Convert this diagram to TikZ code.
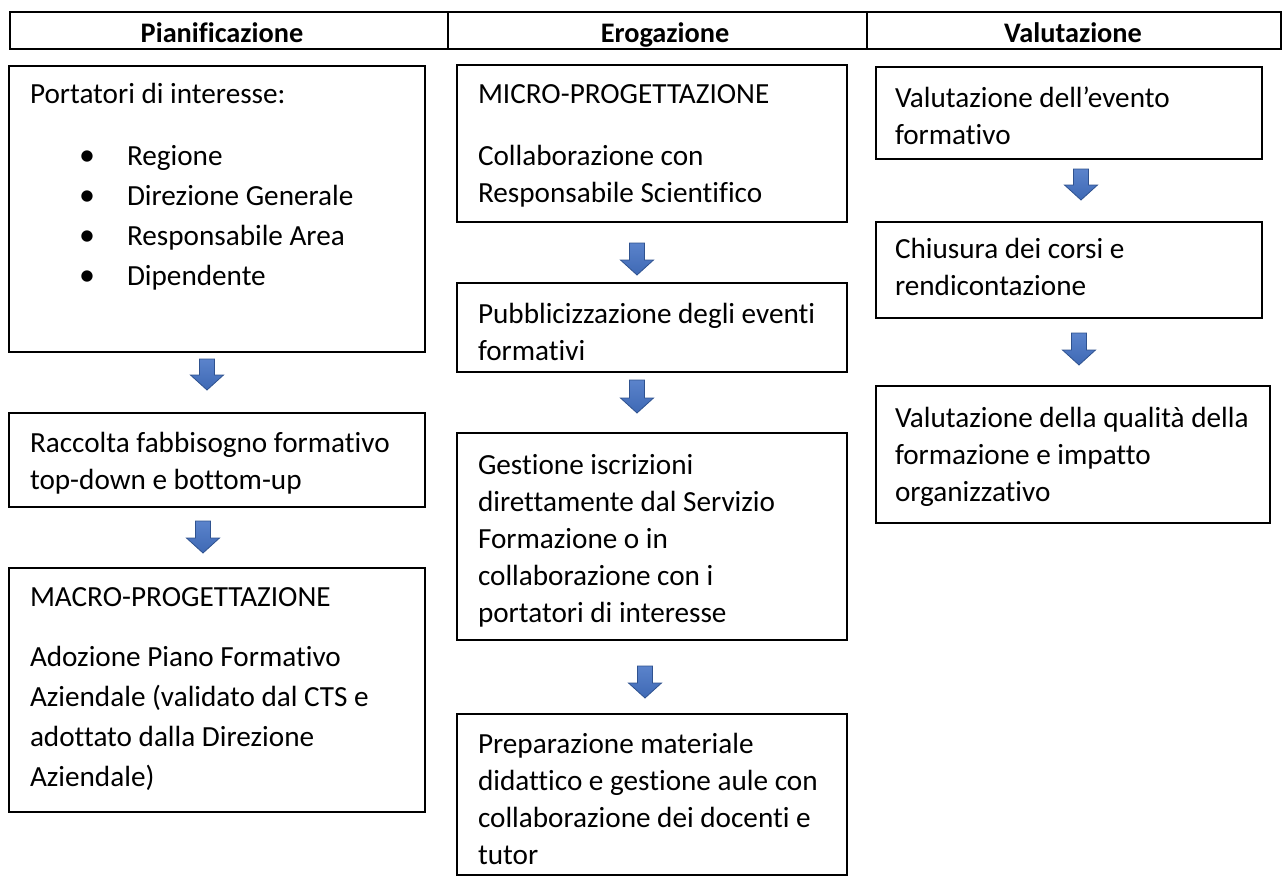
\documentclass[tikz,border=0pt]{standalone}
\usepackage{fontspec}
\setmainfont{Carlito}[Ligatures=NoCommon]
\usetikzlibrary{calc}
\definecolor{arrowblue}{HTML}{4472C4}
\definecolor{arrowedge}{HTML}{2F528F}
\newcommand{\blockarr}[2]{%
  \draw[blockarrow] ($(#1)+(-7.5,0)$) -- ($(#1)+(7.5,0)$) -- ($(#2)+(7.5,-15)$) -- ($(#2)+(16.5,-15)$)
    -- (#2) -- ($(#2)+(-16.5,-15)$) -- ($(#2)+(-7.5,-15)$) -- cycle;}
\begin{document}
\begin{tikzpicture}[x=1pt,y=-1pt,
  box/.style={draw=black, line width=1.3pt, anchor=north west, inner sep=0pt, outer sep=0pt},
  hcell/.style={draw=black, line width=1.8pt, anchor=north west, inner sep=0pt, outer sep=0pt, minimum height=37pt},
  htxt/.style={anchor=base, inner sep=0pt, font=\fontsize{28.3}{32}\selectfont\bfseries},
  txt/.style={anchor=north west, inner sep=0pt, outer sep=0pt, align=left, font=\fontsize{29.2}{37}\selectfont},
  listtxt/.style={anchor=north west, inner sep=0pt, outer sep=0pt, align=left, font=\fontsize{29.2}{40}\selectfont},
  blockarrow/.style={draw=arrowedge, line width=0.8pt, top color=arrowblue!88!white, bottom color=arrowblue!92!black, line join=miter}
]
\useasboundingbox (0,0) rectangle (1283,876);

% header table
\node[hcell, minimum width=438pt] (h1) at (10,12) {};
\node[hcell, minimum width=419pt] (h2) at (448,12) {};
\node[hcell, minimum width=414pt] (h3) at (867,12) {};
\node[htxt] (h1t) at (222,42) {Pianificazione};
\node[htxt] (h2t) at (665,42) {Erogazione};
\node[htxt] (h3t) at (1073,42) {Valutazione};

% column 1
\node[box, minimum width=416pt, minimum height=286pt] (p1) at (9,66) {};
\node[txt] (p1t) at (30,77.1) {\strut Portatori di interesse:};
\node[listtxt] (p1l) at (79,137) {\strut\makebox[48pt][l]{\fontsize{32}{40}\selectfont •}Regione\\
  \makebox[48pt][l]{\fontsize{32}{40}\selectfont •}Direzione Generale\\
  \makebox[48pt][l]{\fontsize{32}{40}\selectfont •}Responsabile Area\\
  \makebox[48pt][l]{\fontsize{32}{40}\selectfont •}Dipendente};

\node[box, minimum width=416pt, minimum height=94pt] (p2) at (9,413) {};
\node[txt] (p2t) at (30,426.1) {\strut Raccolta fabbisogno formativo\\top-down e bottom-up};

\node[box, minimum width=416pt, minimum height=244pt] (p3) at (9,568) {};
\node[txt, font=\fontsize{29.2}{40}\selectfont] (p3t) at (30,578) {\strut MACRO-PROGETTAZIONE\\[20pt]Adozione Piano Formativo\\Aziendale (validato dal CTS e\\adottato dalla Direzione\\Aziendale)};

% column 2
\node[box, minimum width=390pt, minimum height=157pt] (m1) at (457,65) {};
\node[txt] (m1t) at (478,77.1) {\strut MICRO-PROGETTAZIONE\\[25pt]Collaborazione con\\Responsabile Scientifico};

\node[box, minimum width=390pt, minimum height=89pt] (m2) at (457,283) {};
\node[txt] (m2t) at (478,297.1) {\strut Pubblicizzazione degli eventi\\formativi};

\node[box, minimum width=390pt, minimum height=207pt] (m3) at (457,433) {};
\node[txt] (m3t) at (478,448.1) {\strut Gestione iscrizioni\\direttamente dal Servizio\\Formazione o in\\collaborazione con i\\portatori di interesse};

\node[box, minimum width=390pt, minimum height=161pt] (m4) at (457,714) {};
\node[txt] (m4t) at (478,727.1) {\strut Preparazione materiale\\didattico e gestione aule con\\collaborazione dei docenti e\\tutor};

% column 3
\node[box, minimum width=386pt, minimum height=92pt] (v1) at (876,67) {};
\node[txt] (v1t) at (895,81.1) {\strut Valutazione dell’evento\\formativo};

\node[box, minimum width=386pt, minimum height=96pt] (v2) at (876,222) {};
\node[txt] (v2t) at (895,232.1) {\strut Chiusura dei corsi e\\rendicontazione};

\node[box, minimum width=394pt, minimum height=137pt] (v3) at (876,386) {};
\node[txt] (v3t) at (895,401.1) {\strut Valutazione della qualità della\\formazione e impatto\\organizzativo};

% block arrows
\coordinate (a1s) at (207,359); \coordinate (a1e) at (207,390);
\coordinate (a2s) at (203,521); \coordinate (a2e) at (203,553);
\coordinate (a3s) at (637,243); \coordinate (a3e) at (637,275);
\coordinate (a4s) at (637,380); \coordinate (a4e) at (637,413);
\coordinate (a5s) at (645,666); \coordinate (a5e) at (645,698);
\coordinate (a6s) at (1081,169); \coordinate (a6e) at (1081,200);
\coordinate (a7s) at (1079,333); \coordinate (a7e) at (1079,365);
\blockarr{a1s}{a1e}
\blockarr{a2s}{a2e}
\blockarr{a3s}{a3e}
\blockarr{a4s}{a4e}
\blockarr{a5s}{a5e}
\blockarr{a6s}{a6e}
\blockarr{a7s}{a7e}
\end{tikzpicture}
\end{document}
